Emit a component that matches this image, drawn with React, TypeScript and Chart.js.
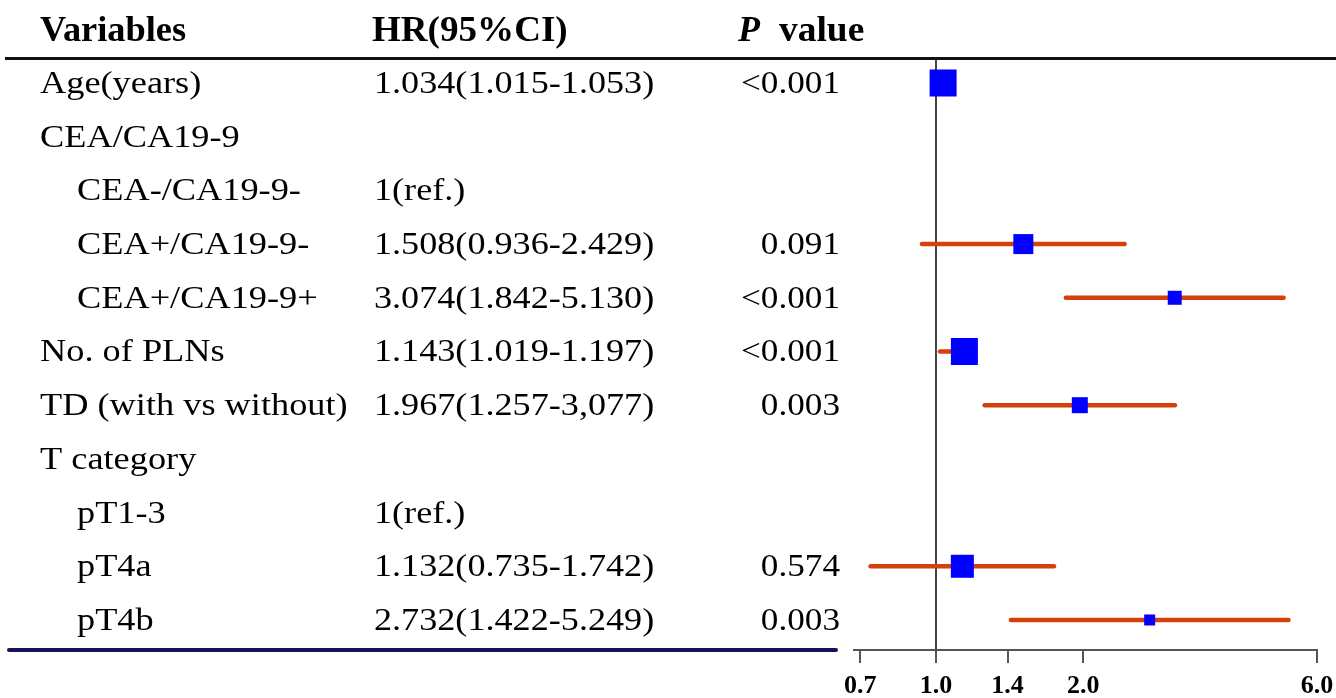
import React, { useEffect, useRef } from "react";
import { Chart, registerables } from "chart.js";

Chart.register(...registerables);

// ---- data ----
const variables = [
  "Age(years)",
  "CEA/CA19-9",
  "CEA-/CA19-9-",
  "CEA+/CA19-9-",
  "CEA+/CA19-9+",
  "No. of PLNs",
  "TD (with vs without)",
  "T category",
  "pT1-3",
  "pT4a",
  "pT4b",
];
const indented = [false, false, true, true, true, false, false, false, true, true, true];
const hrLabels = [
  "1.034(1.015-1.053)",
  "",
  "1(ref.)",
  "1.508(0.936-2.429)",
  "3.074(1.842-5.130)",
  "1.143(1.019-1.197)",
  "1.967(1.257-3,077)",
  "",
  "1(ref.)",
  "1.132(0.735-1.742)",
  "2.732(1.422-5.249)",
];
const pValues = ["<0.001", "", "", "0.091", "<0.001", "<0.001", "0.003", "", "", "0.574", "0.003"];
const hr = [1.034, null, null, 1.508, 3.074, 1.143, 1.967, null, null, 1.132, 2.732];
const ciLow = [1.015, null, null, 0.936, 1.842, 1.019, 1.257, null, null, 0.735, 1.422];
const ciHigh = [1.053, null, null, 2.429, 5.13, 1.197, 3.077, null, null, 1.742, 5.249];
const weights = [27, null, null, 20, 14, 27, 16, null, null, 23, 11];
const xTicks = [0.7, 1.0, 1.4, 2.0, 6.0];

const SERIF = "'Liberation Serif', 'Times New Roman', serif";

function drawText(ctx: CanvasRenderingContext2D, text: string, x: number, y: number, sx: number, align: CanvasTextAlign) {
  ctx.save();
  ctx.translate(x, y);
  ctx.scale(sx, 1);
  ctx.textAlign = align;
  ctx.fillText(text, 0, 0);
  ctx.restore();
}

const refLinePlugin = {
  id: "refLine",
  beforeDatasetsDraw(chart: any) {
    const { ctx, chartArea, scales } = chart;
    const x = scales.x.getPixelForValue(1);
    ctx.save();
    ctx.strokeStyle = "#444";
    ctx.lineWidth = 2;
    ctx.beginPath();
    ctx.moveTo(x, chartArea.top);
    ctx.lineTo(x, chartArea.bottom);
    ctx.stroke();
    ctx.restore();
  },
};

const tablePlugin = {
  id: "table",
  afterDraw(chart: any) {
    const { ctx, scales, width } = chart;
    const ys = scales.y;
    ctx.save();
    ctx.fillStyle = "#000";
    ctx.textBaseline = "alphabetic";
    // headers
    ctx.font = `bold 36px ${SERIF}`;
    drawText(ctx, "Variables", 40, 41, 1.01, "left");
    drawText(ctx, "HR(95%CI)", 372, 41, 1.03, "left");
    ctx.font = `italic bold 36px ${SERIF}`;
    drawText(ctx, "P", 738, 41, 1, "left");
    ctx.font = `bold 36px ${SERIF}`;
    drawText(ctx, "value", 779, 41, 1.04, "left");

    // top rule
    ctx.strokeStyle = "#111";
    ctx.lineWidth = 3;
    ctx.beginPath();
    ctx.moveTo(5, 58.5);
    ctx.lineTo(width, 58.5);
    ctx.stroke();

    // rows
    ctx.font = `32px ${SERIF}`;
    variables.forEach((name, i) => {
      const y = ys.getPixelForValue(i) + 10;
      drawText(ctx, name, indented[i] ? 77 : 40, y, 1.135, "left");
      if (hrLabels[i]) drawText(ctx, hrLabels[i], 374, y, 1.13, "left");
      if (pValues[i]) drawText(ctx, pValues[i], 840, y, 1.1, "right");
    });

    // bottom rule
    ctx.strokeStyle = "#141459";
    ctx.lineWidth = 4;
    ctx.lineCap = "round";
    ctx.beginPath();
    ctx.moveTo(9, 650);
    ctx.lineTo(836, 650);
    ctx.stroke();
    ctx.restore();
  },
};

export default function App() {
  const ref = useRef<HTMLCanvasElement>(null);
  useEffect(() => {
    if (!ref.current) return;
    const rows = variables.map((_, i) => i).filter((i) => hr[i] != null);
    const ciSets = rows.map((i) => ({
      data: [
        { x: ciLow[i] as number, y: i },
        { x: ciHigh[i] as number, y: i },
      ],
      showLine: true,
      borderColor: "#D6400C",
      borderWidth: 4.5,
      borderCapStyle: "round",
      pointRadius: 0,
      pointHoverRadius: 0,
      order: 2,
    }));
    const squares = {
      data: rows.map((i) => ({ x: hr[i] as number, y: i })),
      pointStyle: "rect",
      pointRadius: rows.map((i) => (weights[i] as number) / Math.SQRT2),
      pointHoverRadius: rows.map((i) => (weights[i] as number) / Math.SQRT2),
      backgroundColor: "#0000FF",
      borderColor: "#0000FF",
      borderWidth: 0,
      order: 1,
    };
    const chart = new Chart(ref.current, {
      type: "scatter",
      data: { datasets: [squares as any, ...(ciSets as any[])] },
      options: {
        animation: false,
        responsive: false,
        layout: { padding: { left: 854, right: 18, top: 57, bottom: 0 } },
        plugins: { legend: { display: false }, tooltip: { enabled: false } },
        scales: {
          x: {
            type: "logarithmic",
            min: 0.68,
            max: 6,
            afterBuildTicks: (s: any) => {
              s.ticks = xTicks.map((v) => ({ value: v }));
            },
            afterFit: (s: any) => {
              s.height = 48;
              s.paddingLeft = 0;
              s.paddingRight = 0;
            },
            ticks: {
              autoSkip: false,
              maxRotation: 0,
              padding: 8,
              color: "#000",
              font: { family: SERIF, weight: "bold", size: 26 },
              callback: (v: any) => Number(v).toFixed(1),
            },
            grid: { drawOnChartArea: false, drawTicks: true, tickLength: 13, color: "#555", lineWidth: 2 },
            border: { display: true, color: "#555", width: 2 },
          },
          y: {
            type: "linear",
            reverse: true,
            min: -0.484,
            max: 10.559,
            display: false,
          },
        },
      },
      plugins: [refLinePlugin, tablePlugin],
    } as any);
    return () => chart.destroy();
  }, []);
  return (
    <div style={{ position: "absolute", left: 0, top: 0, width: 1336, height: 698, background: "#fff" }}>
      <canvas ref={ref} width={1336} height={698} style={{ display: "block" }} />
    </div>
  );
}
